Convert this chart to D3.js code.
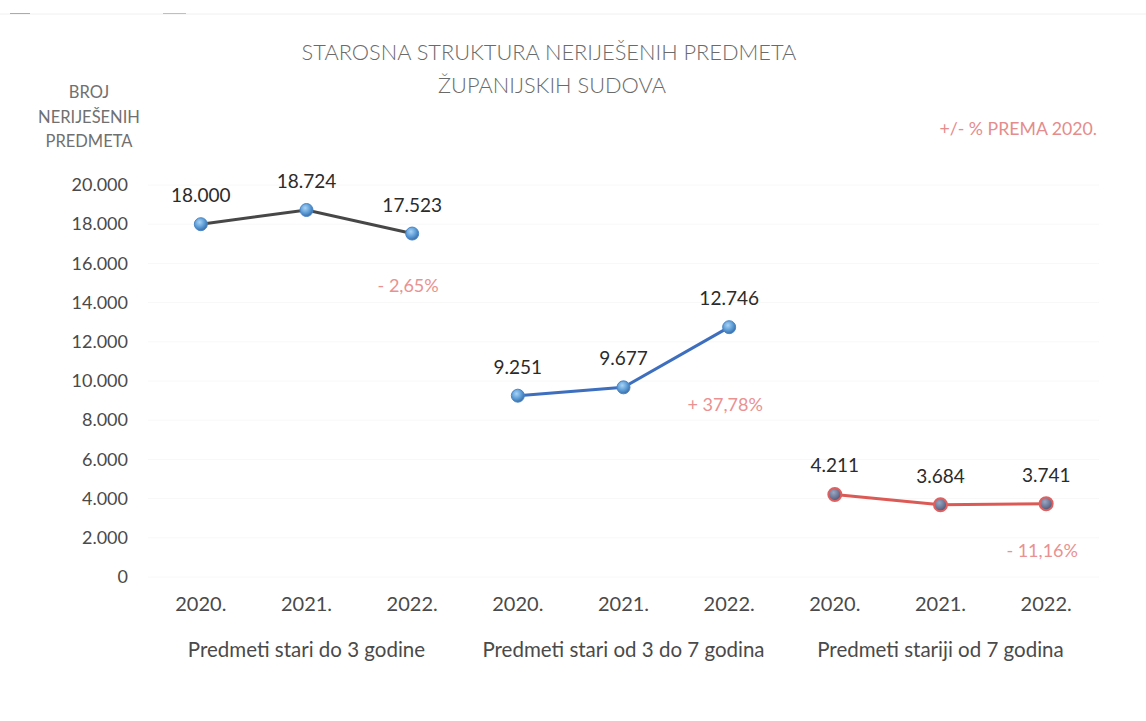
<!DOCTYPE html>
<html>
<head>
<meta charset="utf-8">
<script src="https://cdn.jsdelivr.net/npm/d3@7"></script>
<style>
  body { margin: 0; background: #fff; }
  text { font-family: Lato, "Open Sans", sans-serif; }
</style>
</head>
<body>
<script>
// data
var groups = ["Predmeti stari do 3 godine", "Predmeti stari od 3 do 7 godina", "Predmeti stariji od 7 godina"];
var years = ["2020.", "2021.", "2022."];
var seriesA = [18000, 18724, 17523];
var seriesB = [9251, 9677, 12746];
var seriesC = [4211, 3684, 3741];
var changes = ["- 2,65%", "+ 37,78%", "- 11,16%"];
var yTicks = [0, 2000, 4000, 6000, 8000, 10000, 12000, 14000, 16000, 18000, 20000];

var width = 1146, height = 721;
var lineColors = ["#474747", "#3d6fbe", "#dc5a55"];
var pctDy = [52, 78, 47];

var svg = d3.select("body").append("svg")
  .attr("width", width)
  .attr("height", height);

var fmt = function(v) { return d3.format(",")(v).replace(/,/g, "."); };

var cats = [];
groups.forEach(function(g, gi) {
  years.forEach(function(y, yi) { cats.push(gi + "-" + yi); });
});

var x = d3.scaleBand().domain(cats).range([148, 1099]);
var y = d3.scaleLinear().domain([0, 20000]).range([577, 185]);

var defs = svg.append("defs");
var gradBlue = defs.append("radialGradient").attr("id", "ballBlue")
  .attr("cx", "40%").attr("cy", "35%").attr("r", "65%");
gradBlue.append("stop").attr("offset", "0%").attr("stop-color", "#a9d3f5");
gradBlue.append("stop").attr("offset", "60%").attr("stop-color", "#5b9bd5");
gradBlue.append("stop").attr("offset", "100%").attr("stop-color", "#3b6fa8");
var gradGrey = defs.append("radialGradient").attr("id", "ballGrey")
  .attr("cx", "40%").attr("cy", "35%").attr("r", "65%");
gradGrey.append("stop").attr("offset", "0%").attr("stop-color", "#9aa6c4");
gradGrey.append("stop").attr("offset", "70%").attr("stop-color", "#66708e");
gradGrey.append("stop").attr("offset", "100%").attr("stop-color", "#4b5270");

// faint scan line at top
svg.append("line").attr("x1", 0).attr("x2", width).attr("y1", 14).attr("y2", 14)
  .attr("stroke", "#f0f0f0").attr("stroke-width", 1);
svg.append("line").attr("x1", 10).attr("x2", 30).attr("y1", 13.5).attr("y2", 13.5)
  .attr("stroke", "#777").attr("stroke-width", 0.6);
svg.append("line").attr("x1", 163).attr("x2", 186).attr("y1", 13.5).attr("y2", 13.5)
  .attr("stroke", "#999").attr("stroke-width", 0.6);

// gridlines
svg.append("g").selectAll("line").data(yTicks).enter().append("line")
  .attr("x1", 148).attr("x2", 1099)
  .attr("y1", function(d) { return y(d); })
  .attr("y2", function(d) { return y(d); })
  .attr("stroke", "#f8f8f8").attr("stroke-width", 1);

// y axis
var yAxis = svg.append("g").attr("transform", "translate(128,0)")
  .call(d3.axisLeft(y).tickValues(yTicks).tickSize(0).tickPadding(0).tickFormat(fmt));
yAxis.select(".domain").remove();
yAxis.selectAll("text").attr("font-size", 18).attr("fill", "#4a4a4a")
  .attr("font-family", "Lato, sans-serif");

// x axis
var xAxis = svg.append("g").attr("transform", "translate(0,597)")
  .call(d3.axisBottom(x).tickSize(0).tickPadding(0)
    .tickFormat(function(d) { return years[+d.split("-")[1]]; }));
xAxis.select(".domain").remove();
xAxis.selectAll("text").attr("font-size", 20).attr("fill", "#4a4a4a")
  .attr("font-family", "Lato, sans-serif");

svg.append("g").selectAll("text").data(groups).enter().append("text")
  .attr("x", function(d, i) { return x(i + "-1") + x.bandwidth() / 2; })
  .attr("y", 657)
  .attr("text-anchor", "middle")
  .attr("font-size", 20.5).attr("fill", "#4a4a4a")
  .text(function(d) { return d; });

// title
var title = svg.append("text").attr("text-anchor", "middle")
  .attr("font-size", 21.8).attr("fill", "#6a6a6a").attr("font-weight", 300);
title.append("tspan").attr("x", 549).attr("y", 60).text("STAROSNA STRUKTURA NERIJEŠENIH PREDMETA");
title.append("tspan").attr("x", 552).attr("y", 93).text("ŽUPANIJSKIH SUDOVA");

// y title
var yt = svg.append("text").attr("text-anchor", "middle")
  .attr("font-size", 16.5).attr("fill", "#707070");
["BROJ", "NERIJEŠENIH", "PREDMETA"].forEach(function(t, i) {
  yt.append("tspan").attr("x", 89).attr("y", 98 + i * 24.5).text(t);
});

svg.append("text").attr("x", 1097).attr("y", 135).attr("text-anchor", "end")
  .attr("font-size", 17.7).attr("fill", "#e58c8c").text("+/- % PREMA 2020.");

// series
var allSeries = [seriesA, seriesB, seriesC];
var line = d3.line()
  .x(function(d) { return x(d.key) + x.bandwidth() / 2; })
  .y(function(d) { return y(d.value); });

allSeries.forEach(function(s, gi) {
  var pts = s.map(function(v, yi) { return { key: gi + "-" + yi, value: v }; });
  var g = svg.append("g");
  g.append("path").datum(pts)
    .attr("d", line)
    .attr("fill", "none")
    .attr("stroke", lineColors[gi])
    .attr("stroke-width", 3);
  g.selectAll("circle").data(pts).enter().append("circle")
    .attr("cx", function(d) { return x(d.key) + x.bandwidth() / 2; })
    .attr("cy", function(d) { return y(d.value); })
    .attr("r", 6.5)
    .attr("fill", gi === 2 ? "url(#ballGrey)" : "url(#ballBlue)")
    .attr("stroke", gi === 2 ? "#e06060" : "#4a86c8")
    .attr("stroke-width", gi === 2 ? 2 : 1);
  g.selectAll("text.val").data(pts).enter().append("text")
    .attr("class", "val")
    .attr("x", function(d) { return x(d.key) + x.bandwidth() / 2; })
    .attr("y", function(d) { return y(d.value) - 22; })
    .attr("text-anchor", "middle")
    .attr("font-size", 19).attr("fill", "#2b2b2b")
    .text(function(d) { return fmt(d.value); });
  var last = pts[2];
  g.append("text")
    .attr("x", x(last.key) + x.bandwidth() / 2 - 4)
    .attr("y", y(last.value) + pctDy[gi] + 6)
    .attr("text-anchor", "middle")
    .attr("font-size", 18).attr("fill", "#ea9191")
    .text(changes[gi]);
});
</script>
</body>
</html>
